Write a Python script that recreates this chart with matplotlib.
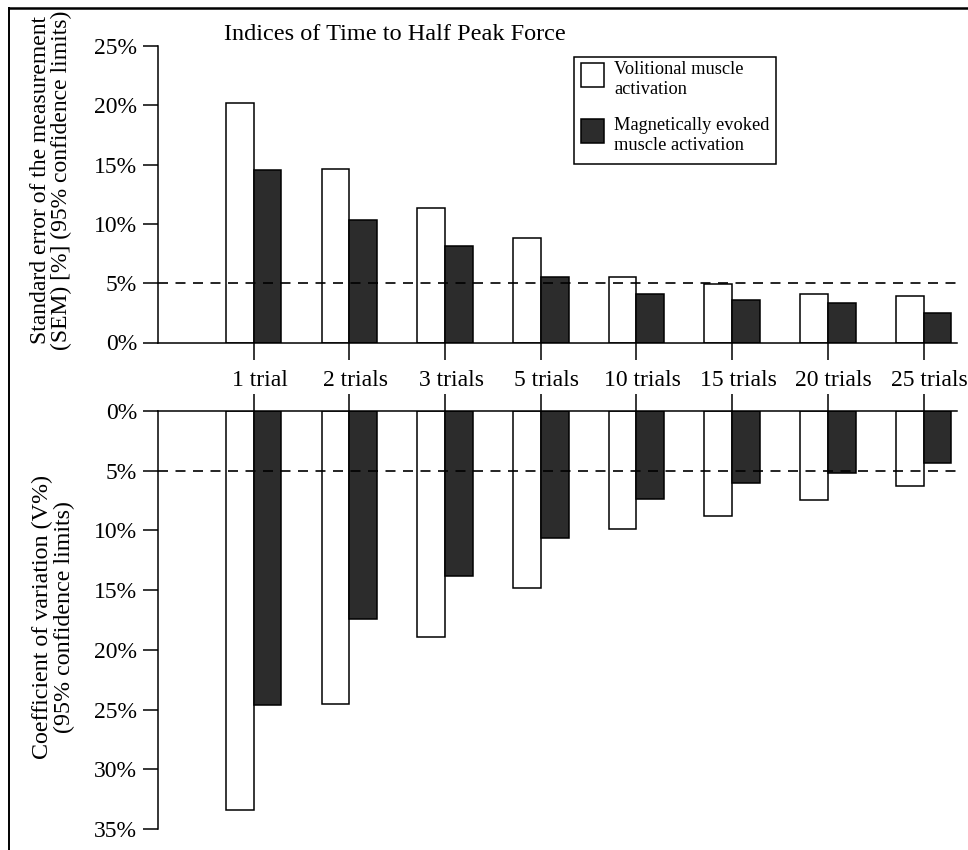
import matplotlib
matplotlib.use("Agg")
import matplotlib.pyplot as plt
import matplotlib.transforms as mtransforms
import numpy as np
from matplotlib.patches import Rectangle
from matplotlib.lines import Line2D

# Reliability indices for time to half peak force, by number of trials
categories = ["1 trial", "2 trials", "3 trials", "5 trials",
              "10 trials", "15 trials", "20 trials", "25 trials"]
sem_volitional = [20.2, 14.6, 11.3, 8.8, 5.5, 4.95, 4.05, 3.9]
sem_magnetic = [14.55, 10.3, 8.15, 5.5, 4.05, 3.6, 3.3, 2.5]
cv_volitional = [33.4, 24.5, 18.9, 14.8, 9.9, 8.8, 7.45, 6.3]
cv_magnetic = [24.6, 17.4, 13.8, 10.6, 7.4, 6.05, 5.2, 4.35]
sem_ticks = [0, 5, 10, 15, 20, 25]
cv_ticks = [0, 5, 10, 15, 20, 25, 30, 35]
threshold = 5
series_labels = ["Volitional muscle\nactivation",
                 "Magnetically evoked\nmuscle activation"]

W, H = 968, 850
SERIF = ["Liberation Serif", "DejaVu Serif"]
plt.rcParams["font.family"] = SERIF
plt.rcParams["axes.linewidth"] = 1.1

DARK = "#2c2c2c"
bar_w = 0.29
x = np.arange(len(categories))

fig = plt.figure(figsize=(W / 100, H / 100), dpi=100)


def fig_box(x0, x1, ytop, ybot):
    return [x0 / W, 1 - ybot / H, (x1 - x0) / W, (ybot - ytop) / H]


def fx(px):
    return px / W


def fy(py):
    return 1 - py / H


ax_top = fig.add_axes(fig_box(158, 957, 46, 342.5))
ax_bot = fig.add_axes(fig_box(158, 957, 411, 829))

for ax, vol, mag in ((ax_top, sem_volitional, sem_magnetic),
                     (ax_bot, cv_volitional, cv_magnetic)):
    ax.bar(x - bar_w / 2, vol, width=bar_w, color="white",
           edgecolor="black", linewidth=1.1, zorder=2)
    ax.bar(x + bar_w / 2, mag, width=bar_w, color=DARK,
           edgecolor="black", linewidth=1.1, zorder=2)
    ln = ax.axhline(threshold, color="black", linewidth=1.2, zorder=3)
    ln.set_dashes((6, 4.5))
    ax.set_xlim(-1, 7.35)
    ax.spines["right"].set_visible(False)
    ax.tick_params(axis="y", direction="out", length=11, width=1.1,
                   labelsize=17, pad=4)
    ax.tick_params(axis="x", direction="out", length=12, width=1.1)
    ax.set_xticks(x)

# Top panel: SEM
ax_top.set_ylim(0, 25)
ax_top.spines["top"].set_visible(False)
ax_top.set_yticks(sem_ticks)
ax_top.set_yticklabels([f"{t}%" for t in sem_ticks])
ax_top.set_xticklabels(categories, fontsize=17)
ax_top.tick_params(axis="x", pad=8)
shift = mtransforms.ScaledTranslation(6 / 100, 0, fig.dpi_scale_trans)
for lbl in ax_top.get_xticklabels():
    lbl.set_transform(lbl.get_transform() + shift)

# Bottom panel: CV, drawn downward from zero
ax_bot.set_ylim(35, 0)
ax_bot.spines["bottom"].set_visible(False)
ax_bot.xaxis.set_ticks_position("top")
ax_bot.set_xticklabels([])
ax_bot.set_yticks(cv_ticks)
ax_bot.set_yticklabels([f"{t}%" for t in cv_ticks])

fig.text(fx(224), fy(35), "Indices of Time to Half Peak Force",
         fontsize=17.5, ha="left", va="center")

fig.text(fx(51), fy(180),
         "Standard error of the measurement\n(SEM) [%] (95% confidence limits)",
         rotation=90, fontsize=17, ha="center", va="center",
         multialignment="center", linespacing=1.05)
fig.text(fx(53), fy(617),
         "Coefficient of variation (V%)\n(95% confidence limits)",
         rotation=90, fontsize=17.3, ha="center", va="center",
         multialignment="center", linespacing=1.05)

# Legend box with swatches aligned to the first line of each entry
fig.add_artist(Rectangle((fx(574), fy(164)), (776 - 574) / W, (164 - 57) / H,
                         transform=fig.transFigure, facecolor="white",
                         edgecolor="black", linewidth=1.1, zorder=5))
swatch_tops = [63, 119]
for top, face, label in zip(swatch_tops, ["white", DARK], series_labels):
    fig.add_artist(Rectangle((fx(581), fy(top + 24)), 23 / W, 24 / H,
                             transform=fig.transFigure, facecolor=face,
                             edgecolor="black", linewidth=1.1, zorder=6))
    fig.text(fx(614), fy(top - 2), label, fontsize=13.2, ha="left", va="top",
             linespacing=1.2, zorder=6)

# Frame around the figure
fig.add_artist(Line2D([fx(9), fx(9)], [0, fy(8)], color="black",
                      linewidth=1.4, transform=fig.transFigure))
fig.add_artist(Line2D([fx(9), 1], [fy(8), fy(8)], color="black",
                      linewidth=1.8, transform=fig.transFigure))

fig.savefig("out.png", dpi=100)
